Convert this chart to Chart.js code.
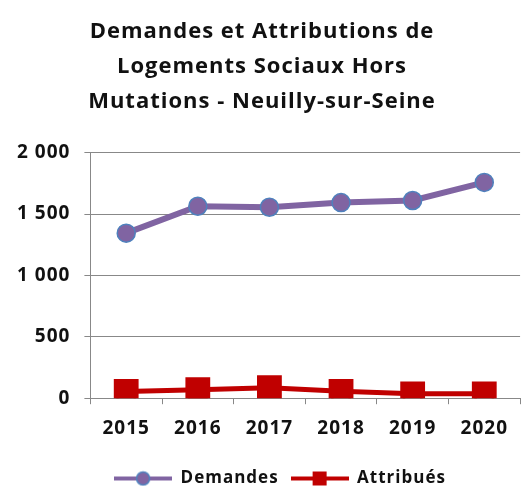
<!DOCTYPE html>
<html>
<head>
<meta charset="utf-8">
<script src="https://cdn.jsdelivr.net/npm/chart.js@4"></script>
<style>
  html, body { margin: 0; padding: 0; background: #fff; }
  #wrap { width: 521px; height: 486px; }
</style>
</head>
<body>
<div id="wrap"><canvas id="chart" width="521" height="486"></canvas></div>
<script>
// ===== données =====
const annees = ["2015", "2016", "2017", "2018", "2019", "2020"];
const demandes = [1344, 1563, 1555, 1593, 1610, 1757];
const attribues = [55, 69, 86, 56, 36, 36];
const titre = ["Demandes et Attributions de", "Logements Sociaux Hors", "Mutations - Neuilly-sur-Seine"];
const yTicks = [0, 500, 1000, 1500, 2000];

const POLICE = "Open Sans";

// petite image "ligne + marqueur" pour la légende
function iconeLegende(couleurLigne, type, fond, bord) {
  const c = document.createElement("canvas");
  c.width = 58; c.height = 20;
  const g = c.getContext("2d");
  g.strokeStyle = couleurLigne;
  g.lineWidth = 4;
  g.beginPath(); g.moveTo(0, 10); g.lineTo(58, 10); g.stroke();
  g.fillStyle = fond;
  if (type === "circle") {
    g.beginPath(); g.arc(29, 10, 6.5, 0, Math.PI * 2); g.fill();
    g.strokeStyle = bord; g.lineWidth = 1.5; g.stroke();
  } else {
    g.fillRect(22, 3, 14, 14);
  }
  return c;
}

const icones = [
  iconeLegende("#8064A2", "circle", "#8064A2", "#4F81BD"),
  iconeLegende("#C00000", "rect", "#C00000"),
];

// texte un peu espacé comme dans l'original + légende décalée à droite
const retouches = {
  id: "retouches",
  beforeLayout: (chart) => { chart.ctx.letterSpacing = "1px"; },
  afterLayout: (chart) => {
    chart.legend.left += 18;
    chart.legend.right += 18;
  },
};

new Chart(document.getElementById("chart"), {
  type: "line",
  plugins: [retouches],
  data: {
    labels: annees,
    datasets: [
      {
        label: "Demandes",
        data: demandes,
        borderColor: "#8064A2",
        borderWidth: 6,
        backgroundColor: "#8064A2",
        pointBackgroundColor: "#8064A2",
        pointBorderColor: "#4F81BD",
        pointBorderWidth: 1.5,
        pointRadius: 9,
        pointStyle: "circle",
      },
      {
        label: "Attribués",
        data: attribues,
        borderColor: "#C00000",
        borderWidth: 5,
        backgroundColor: "#C00000",
        pointBackgroundColor: "#C00000",
        pointBorderColor: "#C00000",
        pointRadius: 14,
        pointStyle: "rect",
      },
    ],
  },
  options: {
    responsive: false,
    animation: false,
    layout: { autoPadding: false, padding: { left: 3, right: 0, top: 14, bottom: -11 } },
    plugins: {
      title: {
        display: true,
        text: titre,
        color: "#111",
        font: { family: POLICE, size: 22, weight: "bold", lineHeight: 1.6 },
        padding: { top: 0, bottom: 33 },
      },
      legend: {
        position: "bottom",
        labels: {
          color: "#111",
          font: { family: POLICE, size: 17, weight: "bold" },
          usePointStyle: true,
          pointStyleWidth: 58,
          padding: 12,
          generateLabels: (chart) =>
            chart.data.datasets.map((ds, i) => ({
              text: ds.label,
              pointStyle: icones[i],
              fontColor: "#111",
              datasetIndex: i,
              hidden: false,
            })),
        },
      },
      tooltip: { enabled: false },
    },
    scales: {
      x: {
        offset: true,
        grid: {
          offset: true,
          drawOnChartArea: false,
          color: "#888",
          tickLength: 6,
        },
        border: { color: "#888", width: 1 },
        ticks: {
          color: "#111",
          font: { family: POLICE, size: 19, weight: "bold" },
          padding: 13,
        },
        afterFit: (axis) => { axis.height += 5; },
      },
      y: {
        min: 0,
        max: 2000,
        afterBuildTicks: (axis) => {
          axis.ticks = yTicks.map((v) => ({ value: v }));
        },
        grid: { color: "#888", tickLength: 6 },
        border: { color: "#888", width: 1 },
        ticks: {
          color: "#111",
          font: { family: POLICE, size: 19, weight: "bold" },
          padding: 14,
          callback: (v) => String(v).replace(/\B(?=(\d{3})+(?!\d))/g, " "),
        },
      },
    },
  },
});
</script>
</body>
</html>
